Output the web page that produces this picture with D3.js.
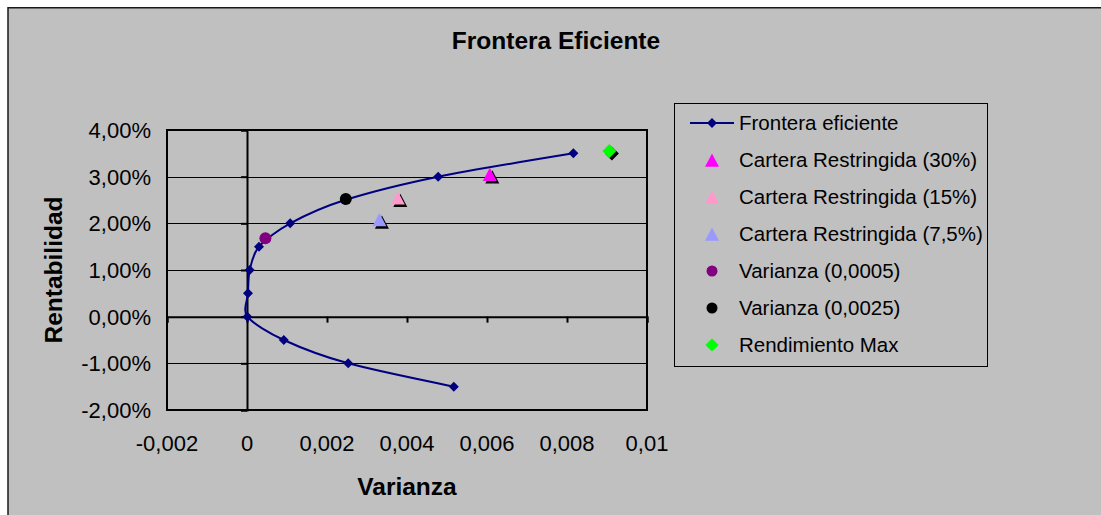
<!DOCTYPE html>
<html><head><meta charset="utf-8">
<script src="https://cdn.jsdelivr.net/npm/d3@7"></script>
<style>html,body{margin:0;padding:0;background:#fff;overflow:hidden}svg{display:block}</style>
</head><body>
<svg id="c" width="1101" height="515"></svg>
<script>
// ---- data ----
const frontierRet = [-0.015, -0.01, -0.005, 0, 0.005, 0.01, 0.015, 0.02, 0.025, 0.03, 0.035];
const frontierVar = [0.00517, 0.00253, 0.00092, 0.00001, 0.000025, 0.000067, 0.0003, 0.00108, 0.00245, 0.00478, 0.00816];

const pointNames  = ["Cartera Restringida (30%)", "Cartera Restringida (15%)", "Cartera Restringida (7,5%)", "Varianza (0,0005)", "Varianza (0,0025)", "Rendimiento Max"];
const pointVar    = [0.00607, 0.00377, 0.00331, 0.00046, 0.00247, 0.00906];
const pointRet    = [0.0304, 0.0254, 0.0207, 0.0168, 0.0252, 0.0355];
const pointColors = ["#FF00FF", "#FF99CC", "#9999FF", "#800080", "#000000", "#00FF00"];
const pointShapes = ["triangle", "triangle", "triangle", "circle", "circle", "diamond"];

const xTicks = [-0.002, 0, 0.002, 0.004, 0.006, 0.008, 0.01];
const xTickLabels = ["-0,002", "0", "0,002", "0,004", "0,006", "0,008", "0,01"];
const yTicks = [-0.02, -0.01, 0, 0.01, 0.02, 0.03, 0.04];
const yTickLabels = ["-2,00%", "-1,00%", "0,00%", "1,00%", "2,00%", "3,00%", "4,00%"];

const chartTitle = "Frontera Eficiente";
const xTitle = "Varianza";
const yTitle = "Rentabilidad";
const frontierName = "Frontera eficiente";

// ---- layout ----
const svg = d3.select("#c");
const FONT = "'Liberation Sans', Arial, sans-serif";
const L = 167, R = 647, T = 130, B = 410;
const x = d3.scaleLinear().domain([-0.002, 0.01]).range([L, R]);
const y = d3.scaleLinear().domain([-0.02, 0.04]).range([B, T]);

function shapePath(shape, s) {
  if (shape === "triangle") return `M0,${-s} L${s},${s*0.9} L${-s},${s*0.9} Z`;
  if (shape === "diamond") return `M0,${-s} L${s},0 L0,${s} L${-s},0 Z`;
  return d3.arc()({innerRadius: 0, outerRadius: s, startAngle: 0, endAngle: 2 * Math.PI});
}

// chart background
svg.append("rect").attr("x", 8).attr("y", 7.75).attr("width", 1200).attr("height", 600)
  .attr("fill", "#c0c0c0").attr("stroke", "#1a1a1a").attr("stroke-width", 1.5);

// plot area
svg.append("rect").attr("x", L).attr("y", T).attr("width", R - L).attr("height", B - T)
  .attr("fill", "#c0c0c0");

// gridlines
svg.append("g").selectAll("line").data(yTicks.filter(d => d !== 0)).join("line")
  .attr("x1", L).attr("x2", R).attr("y1", d => Math.round(y(d)) + 0.5).attr("y2", d => Math.round(y(d)) + 0.5)
  .attr("stroke", "#000").attr("stroke-width", 1);

// plot border
svg.append("rect").attr("x", L).attr("y", T).attr("width", R - L).attr("height", B - T)
  .attr("fill", "none").attr("stroke", "#000").attr("stroke-width", 2);

// axes crossing at zero
const yAxis = d3.axisLeft(y).tickValues(yTicks).tickSize(6).tickFormat("");
svg.append("g").attr("transform", `translate(${x(0)},0)`).call(yAxis)
  .call(g => { g.select(".domain").attr("stroke", "#000").attr("stroke-width", 2); g.selectAll(".tick line").attr("stroke", "#000").attr("stroke-width", 2); });
const xAxis = d3.axisBottom(x).tickValues(xTicks).tickSize(6).tickFormat("");
svg.append("g").attr("transform", `translate(0,${y(0)})`).call(xAxis)
  .call(g => { g.select(".domain").attr("stroke", "#000").attr("stroke-width", 2); g.selectAll(".tick line").attr("stroke", "#000").attr("stroke-width", 2); });

// tick labels
svg.append("g").selectAll("text").data(yTicks).join("text")
  .attr("x", 151).attr("y", d => y(d)).attr("dy", "0.36em").attr("text-anchor", "end")
  .attr("font-family", FONT).attr("font-size", 22).attr("fill", "#000")
  .text((d, i) => yTickLabels[i]);
svg.append("g").selectAll("text").data(xTicks).join("text")
  .attr("x", d => x(d)).attr("y", 451).attr("text-anchor", "middle")
  .attr("font-family", FONT).attr("font-size", 22).attr("fill", "#000")
  .text((d, i) => xTickLabels[i]);

// titles
svg.append("text").attr("x", 556).attr("y", 48.5).attr("text-anchor", "middle")
  .attr("font-family", FONT).attr("font-weight", "bold").attr("font-size", 24.5).text(chartTitle);
svg.append("text").attr("x", (L + R) / 2).attr("y", 495).attr("text-anchor", "middle")
  .attr("font-family", FONT).attr("font-weight", "bold").attr("font-size", 24.5).text(xTitle);
svg.append("text").attr("transform", `translate(62,${(T + B) / 2}) rotate(-90)`).attr("text-anchor", "middle")
  .attr("font-family", FONT).attr("font-weight", "bold").attr("font-size", 24.5).text(yTitle);

// frontier line
const frontier = frontierVar.map((v, i) => [v, frontierRet[i]]);
svg.append("path").datum(frontier)
  .attr("d", d3.line().x(d => x(d[0])).y(d => y(d[1])).curve(d3.curveCardinal.tension(0.15)))
  .attr("fill", "none").attr("stroke", "#000080").attr("stroke-width", 2);
svg.append("g").selectAll("path").data(frontier).join("path")
  .attr("transform", d => `translate(${x(d[0])},${y(d[1])})`)
  .attr("d", shapePath("diamond", 5)).attr("fill", "#000080");

// scatter points with shadow
const pts = pointNames.map((n, i) => ({n, v: pointVar[i], r: pointRet[i], c: pointColors[i], s: pointShapes[i]}));
const sizeOf = s => s === "triangle" ? 7 : s === "diamond" ? 7 : 6;
const pg = svg.append("g");
pts.forEach(p => {
  if (p.s !== "circle") {
    pg.append("path").attr("transform", `translate(${x(p.v) + 2.5},${y(p.r) + 2.5})`)
      .attr("d", shapePath(p.s, sizeOf(p.s))).attr("fill", "#000");
  }
  pg.append("path").attr("transform", `translate(${x(p.v)},${y(p.r)})`)
    .attr("d", shapePath(p.s, sizeOf(p.s))).attr("fill", p.c);
});

// legend
const lg = svg.append("g");
lg.append("rect").attr("x", 674.5).attr("y", 103.5).attr("width", 313).attr("height", 263)
  .attr("fill", "#c0c0c0").attr("stroke", "#000").attr("stroke-width", 1);
const legItems = [{n: frontierName, c: "#000080", s: "line"}].concat(pts);
const legY = i => 123 + i * 37;
legItems.forEach((d, i) => {
  const yy = legY(i);
  if (d.s === "line") {
    lg.append("line").attr("x1", 690).attr("x2", 734).attr("y1", yy).attr("y2", yy)
      .attr("stroke", "#000080").attr("stroke-width", 2);
    lg.append("path").attr("transform", `translate(712,${yy})`).attr("d", shapePath("diamond", 5)).attr("fill", "#000080");
  } else {
    const sz = d.s === "triangle" ? 7 : d.s === "diamond" ? 6.5 : 5.5;
    lg.append("path").attr("transform", `translate(712,${yy + (d.s === "triangle" ? 0.5 : 0)})`)
      .attr("d", shapePath(d.s, sz)).attr("fill", d.c);
  }
  lg.append("text").attr("x", 739).attr("y", yy).attr("dy", "0.36em")
    .attr("font-family", FONT).attr("font-size", 20.5).attr("fill", "#000").text(d.n);
});
</script>
</body></html>
